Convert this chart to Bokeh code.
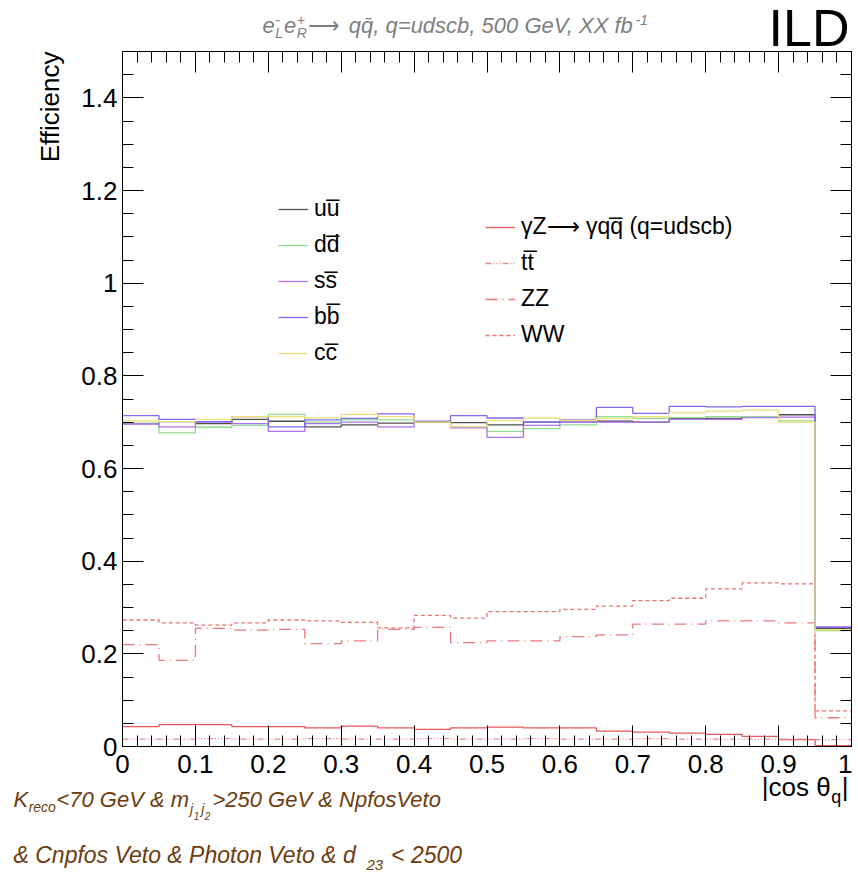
import math
from bokeh.plotting import figure
from bokeh.models import Label, Legend, LegendItem, LinearAxis, FixedTicker, Range1d
from bokeh.embed import file_html
from bokeh.resources import INLINE

# ---------------- data ----------------
bin_edges = [0.0, 0.05, 0.1, 0.15, 0.2, 0.25, 0.3, 0.35, 0.4, 0.45, 0.5,
             0.55, 0.6, 0.65, 0.7, 0.75, 0.8, 0.85, 0.9, 0.95, 1.0]

eff_uu = [0.697, 0.701, 0.697, 0.706, 0.702, 0.690, 0.694, 0.698, 0.700, 0.699,
          0.694, 0.700, 0.700, 0.702, 0.700, 0.708, 0.708, 0.711, 0.716, 0.255]
eff_dd = [0.698, 0.677, 0.689, 0.693, 0.717, 0.700, 0.705, 0.705, 0.700, 0.690,
          0.680, 0.686, 0.694, 0.712, 0.708, 0.710, 0.712, 0.712, 0.703, 0.250]
eff_ss = [0.696, 0.690, 0.700, 0.697, 0.680, 0.697, 0.700, 0.690, 0.702, 0.688,
          0.667, 0.693, 0.700, 0.700, 0.700, 0.706, 0.706, 0.710, 0.711, 0.258]
eff_bb = [0.714, 0.706, 0.701, 0.712, 0.690, 0.705, 0.708, 0.718, 0.701, 0.714,
          0.709, 0.700, 0.705, 0.732, 0.719, 0.734, 0.733, 0.734, 0.734, 0.257]
eff_cc = [0.703, 0.701, 0.706, 0.712, 0.712, 0.710, 0.717, 0.712, 0.700, 0.690,
          0.704, 0.709, 0.704, 0.708, 0.712, 0.720, 0.724, 0.726, 0.700, 0.252]
eff_gZ = [0.043, 0.047, 0.047, 0.043, 0.043, 0.040, 0.044, 0.040, 0.037, 0.040,
          0.042, 0.040, 0.040, 0.033, 0.031, 0.029, 0.026, 0.022, 0.015, 0.002]
eff_tt = [0.016, 0.016, 0.017, 0.016, 0.016, 0.017, 0.016, 0.016, 0.017, 0.016,
          0.016, 0.017, 0.016, 0.016, 0.017, 0.016, 0.016, 0.016, 0.016, 0.015]
eff_ZZ = [0.220, 0.186, 0.255, 0.251, 0.253, 0.222, 0.228, 0.253, 0.257, 0.224,
          0.228, 0.228, 0.237, 0.241, 0.264, 0.264, 0.271, 0.271, 0.267, 0.062]
eff_WW = [0.273, 0.267, 0.262, 0.267, 0.273, 0.271, 0.268, 0.256, 0.283, 0.277,
          0.291, 0.291, 0.296, 0.303, 0.315, 0.320, 0.340, 0.353, 0.351, 0.077]

x_tick_values = [0.0, 0.1, 0.2, 0.3, 0.4, 0.5, 0.6, 0.7, 0.8, 0.9, 1.0]
x_tick_labels = ["0", "0.1", "0.2", "0.3", "0.4", "0.5", "0.6", "0.7", "0.8", "0.9", "1"]
y_tick_values = [0.0, 0.2, 0.4, 0.6, 0.8, 1.0, 1.2, 1.4]
y_tick_labels = ["0", "0.2", "0.4", "0.6", "0.8", "1", "1.2", "1.4"]
x_minor_ticks = [round(0.02 * i, 2) for i in range(51)]
y_minor_ticks = [round(0.05 * i, 2) for i in range(31)]
X_LIM = (0.0, 1.0)
Y_LIM = (0.0, 1.5)

# ---------------- layout constants (pixels) ----------------
W, H = 852, 872
PX0, PX1 = 122, 851      # pixel x of x=0 and x=1
PY0, PY1 = 746, 51       # pixel y of y=0 and y=1.5
sx = (PX1 - PX0) / (X_LIM[1] - X_LIM[0])
sy = (PY0 - PY1) / (Y_LIM[1] - Y_LIM[0])
x_rng = Range1d(X_LIM[0] - PX0 / sx, X_LIM[0] + (W - PX0) / sx)
y_rng = Range1d(Y_LIM[0] - (H - PY0) / sy, Y_LIM[0] + PY0 / sy)

FONT = "Liberation Sans"

p = figure(frame_width=W, frame_height=H, output_backend="svg",
           toolbar_location=None, x_range=x_rng, y_range=y_rng,
           min_border=0, background_fill_color="white", border_fill_color="white")
p.xgrid.visible = False
p.ygrid.visible = False
p.outline_line_color = None

def style_axis(ax, tv, mt, labels=None):
    ax.ticker = FixedTicker(ticks=tv, minor_ticks=mt)
    if labels is None:
        ax.major_label_overrides = {v: "" for v in tv}
    else:
        ax.major_label_overrides = {v: s for v, s in zip(tv, labels)}
    ax.major_label_text_font = FONT
    ax.major_label_text_font_size = "26px"
    ax.major_label_text_color = "black"
    ax.major_tick_in = 21
    ax.major_tick_out = 0
    ax.minor_tick_in = 11
    ax.minor_tick_out = 0
    ax.axis_line_color = "black"
    ax.axis_line_width = 1
    ax.major_tick_line_color = "black"
    ax.minor_tick_line_color = "black"

xa = p.xaxis[0]
ya = p.yaxis[0]
style_axis(xa, x_tick_values, x_minor_ticks, x_tick_labels)
style_axis(ya, y_tick_values, y_minor_ticks, y_tick_labels)
xa.fixed_location = Y_LIM[0]
xa.bounds = X_LIM
ya.fixed_location = X_LIM[0]
ya.bounds = Y_LIM
xa.major_label_standoff = 8
ya.major_label_standoff = 5

top_ax = LinearAxis(fixed_location=Y_LIM[1], bounds=X_LIM)
style_axis(top_ax, x_tick_values, x_minor_ticks)
p.add_layout(top_ax, "above")
right_ax = LinearAxis(fixed_location=X_LIM[1], bounds=Y_LIM)
style_axis(right_ax, y_tick_values, y_minor_ticks)
p.add_layout(right_ax, "right")

def ext(v):
    return list(v) + [v[-1]]

LW = 1.3
r_gZ = p.step(bin_edges, ext(eff_gZ), mode="after", line_color="#e35a5a", line_width=LW)
r_tt = p.step(bin_edges, ext(eff_tt), mode="after", line_color="#e88a8a", line_width=LW,
              line_dash="6 2 1 2 1 2 1 2")
r_ZZ = p.step(bin_edges, ext(eff_ZZ), mode="after", line_color="#ee7878", line_width=LW,
              line_dash="12 5 1 5")
r_WW = p.step(bin_edges, ext(eff_WW), mode="after", line_color="#ef7070", line_width=LW,
              line_dash="4 3")
r_uu = p.step(bin_edges, ext(eff_uu), mode="after", line_color="#505050", line_width=LW)
r_dd = p.step(bin_edges, ext(eff_dd), mode="after", line_color="#8fdc8f", line_width=LW)
r_ss = p.step(bin_edges, ext(eff_ss), mode="after", line_color="#b070f2", line_width=LW)
r_bb = p.step(bin_edges, ext(eff_bb), mode="after", line_color="#7a6cf0", line_width=LW)
r_cc = p.step(bin_edges, ext(eff_cc), mode="after", line_color="#f0e07a", line_width=LW)

OL = "\u0305"
ARROW = "\u27f6"
def mk_legend(items, loc):
    lg = Legend(items=items, location=loc, padding=0, margin=0,
                border_line_color=None, background_fill_alpha=0,
                label_text_font=FONT, label_text_font_size="23px",
                label_text_color="black", glyph_width=30, glyph_height=22,
                label_height=22, spacing=9, label_standoff=6)
    p.add_layout(lg, "center")

mk_legend([LegendItem(label="uu" + OL, renderers=[r_uu]),
           LegendItem(label="dd" + OL, renderers=[r_dd]),
           LegendItem(label="ss" + OL, renderers=[r_ss]),
           LegendItem(label="bb" + OL, renderers=[r_bb]),
           LegendItem(label="cc" + OL, renderers=[r_cc])], (278, H - 366))
mk_legend([LegendItem(label="\u03b3Z" + ARROW + " \u03b3qq" + OL + " (q=udscb)", renderers=[r_gZ]),
           LegendItem(label="tt" + OL, renderers=[r_tt]),
           LegendItem(label="ZZ", renderers=[r_ZZ]),
           LegendItem(label="WW", renderers=[r_WW])], (485, H - 348))

# ---------------- texts ----------------
WID = {' ': 278, '&': 667, '(': 333, ')': 333, '+': 584, ',': 278, '-': 333, '.': 278,
       '<': 584, '=': 584, '>': 584, '|': 260, 'C': 722, 'G': 778, 'K': 667, 'L': 556,
       'N': 722, 'P': 667, 'R': 722, 'V': 667, 'X': 667, 'a': 556, 'b': 556, 'c': 500,
       'd': 556, 'e': 556, 'f': 278, 'h': 556, 'i': 222, 'j': 222, 'm': 833, 'n': 556,
       'o': 556, 'p': 556, 'q': 556, 'r': 333, 's': 500, 't': 278, 'u': 556,
       '\u03b8': 556, '\u0304': 0, '\u0305': 0}

def tw(s, size):
    return sum(WID.get(ch, 556) for ch in s) * size / 1000.0

KB = 0.385   # rendered baseline offset of Label text, in em

def put(txt, px, py, size, color, style="normal", align="left", angle=0.0):
    if angle == 0.0:
        ax_, ay_ = px, py - KB * size
    else:
        ax_, ay_ = px - KB * size, py
    p.add_layout(Label(x=ax_, y=H - ay_, x_units="screen", y_units="screen",
                       text=txt, text_font=FONT, text_font_size=f"{size}px",
                       text_color=color, text_font_style=style, text_align=align,
                       text_baseline="alphabetic", angle=angle))

# title
TC = "#7f7f7f"
ts, ss = 22, 14
tb = 33
x = 262
put("e", x, tb, ts, TC, "italic"); x += tw("e", ts) + 0.5
put("-", x, tb - 8, ss, TC, "italic"); put("L", x, tb + 5, ss, TC, "italic")
x += max(tw("-", ss), tw("L", ss)) + 1
put("e", x, tb, ts, TC, "italic"); x += tw("e", ts) + 0.5
put("+", x, tb - 8, ss, TC, "italic"); put("R", x, tb + 5, ss, TC, "italic")
x += max(tw("+", ss), tw("R", ss)) + 1
put(ARROW, x, tb, ts, TC, "normal"); x += 41
chunk = "qq\u0304, q=udscb, 500 GeV, XX fb"
put(chunk, x, tb, ts, TC, "italic"); x += tw(chunk, ts) + 1
put("-1", x, tb - 8, ss, TC, "italic")

# ILD
put("ILD", 849, 48, 52, "black", align="right")

# y axis title
put("Efficiency", 60, 51, 26, "black", align="right", angle=math.pi / 2)

# x axis title
xl = 848 - (tw("|cos \u03b8", 26) + tw("q", 18) + tw("|", 26) + 1)
put("|cos \u03b8", xl, 797, 26, "black"); xl += tw("|cos \u03b8", 26) + 0.5
put("q", xl, 803, 18, "black"); xl += tw("q", 18) + 0.5
put("|", xl, 797, 26, "black")

# selection text
BC = "#6f3c0f"
b1, fs = 807, 22
x = 13
put("K", x, b1, fs, BC, "italic"); x += tw("K", fs) + 0.5
put("reco", x, b1 + 5, 14, BC, "italic"); x += tw("reco", 14) + 0.5
s = "<70 GeV & m"
put(s, x, b1, fs, BC, "italic"); x += tw(s, fs) + 1
put("j", x, b1 + 7, 14, BC, "italic"); x += tw("j", 14) + 0.5
put("1", x, b1 + 12, 10, BC, "italic"); x += tw("1", 10) + 2
put("j", x, b1 + 7, 14, BC, "italic"); x += tw("j", 14) + 0.5
put("2", x, b1 + 12, 10, BC, "italic"); x += tw("2", 10) + 2
put(">250 GeV & NpfosVeto", x, b1, fs, BC, "italic")

b2, fs2 = 863, 23
x = 13
s = "& Cnpfos Veto & Photon Veto & d"
put(s, x, b2, fs2, BC, "italic"); x += tw(s, fs2) + 9
put("23", x, b2 + 7, 15, BC, "italic"); x += tw("23", 15) + 8
put("< 2500", x, b2, fs2, BC, "italic")

open("out.html", "w").write(file_html(p, INLINE))
